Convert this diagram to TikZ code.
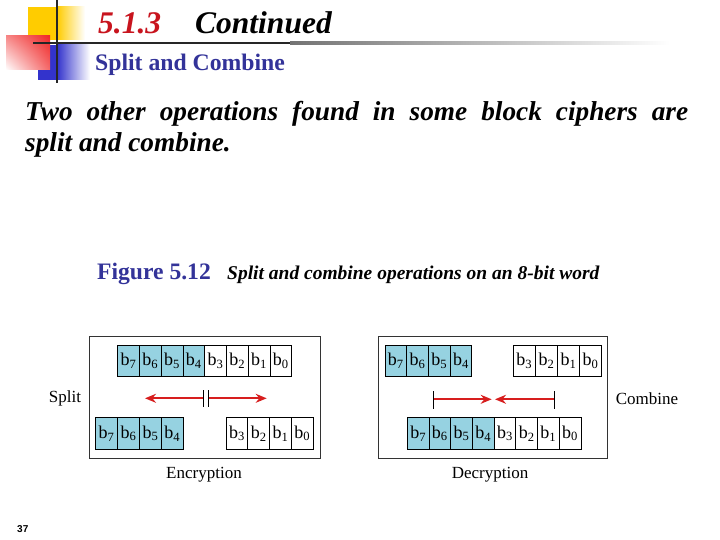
\documentclass[tikz,border=0pt]{standalone}
\usepackage{fontspec}
\setmainfont{Liberation Serif}
\newfontfamily\sansf{Liberation Sans}
\usetikzlibrary{arrows.meta,shadings}
\definecolor{navy}{RGB}{51,51,153}
\definecolor{cellblue}{RGB}{150,210,225}
\definecolor{arrred}{RGB}{215,30,30}
\definecolor{titlered}{RGB}{200,20,30}
\definecolor{decoyellow}{RGB}{255,204,0}
\definecolor{decoblue}{RGB}{51,51,204}
\definecolor{decored}{RGB}{240,40,40}
\begin{document}
\begin{tikzpicture}[x=1pt,y=-1pt,
  cellb/.style={draw=black, line width=0.8pt, fill=cellblue, minimum width=21.8pt, minimum height=31.5pt, inner sep=0pt, font=\fontsize{18}{21}\selectfont},
  cellw/.style={cellb, fill=white},
  frame/.style={draw=black!80, line width=0.9pt},
  lab/.style={inner sep=0pt, font=\fontsize{17}{20}\selectfont},
  redarrow/.style={draw=arrred, line width=1.7pt, -{Stealth[length=11pt,width=9pt]}},
  bar/.style={draw=black, line width=1.3pt},
  txt/.style={inner sep=0pt, anchor=base west}]
\useasboundingbox (0,0) rectangle (720,540);
\fill[white] (0,0) rectangle (720,540);

% decoration
\fill[decoyellow] (28,7) rectangle (57,40);
\shade[left color=decoyellow, right color=white] (57,7) rectangle (85,40);
\fill[decoblue] (38,45) rectangle (57,80);
\shade[left color=decoblue, right color=white] (57,45) rectangle (90,80);
\shade[upper right=decored, upper left=decored!55!white, lower right=decored!70!white, lower left=white] (6,36) rectangle (50,70);
\fill[black!85] (33,41.8) rectangle (290,44.2);
\shade[left color=black!55, right color=white] (290,41.8) rectangle (670,44.2);
\fill[black!85] (55.8,0) rectangle (58.2,83);

% title
\node[txt, font=\fontsize{31.5}{36}\selectfont\bfseries\itshape, text=titlered] (num) at (98,34) {5.1.3};
\node[txt, font=\fontsize{31.5}{36}\selectfont\bfseries\itshape] (cont) at (195,34) {Continued};
\node[txt, font=\fontsize{23.7}{27}\selectfont\bfseries, text=navy] (sub) at (95,71) {Split and Combine};

% body
\node[txt, font=\fontsize{27.3}{31}\selectfont\bfseries\itshape] (l1) at (25,121) {\makebox[663pt][s]{Two other operations found in some block ciphers are}};
\node[txt, font=\fontsize{27.3}{31}\selectfont\bfseries\itshape] (l2) at (25,152) {split and combine.};

% figure caption
\node[txt, font=\fontsize{23.6}{27}\selectfont\bfseries, text=navy] (fig) at (97,279) {Figure 5.12};
\node[txt, font=\fontsize{19.5}{22}\selectfont\bfseries\itshape] (cap) at (227,279) {Split and combine operations on an 8-bit word};

% frames
\draw[frame] (89,336) rectangle (320,458);
\draw[frame] (378,336) rectangle (607,458);

% encryption: top row
\foreach \b [count=\k from 0] in {7,6,5,4,3,2,1,0} {
  \ifnum\k<4
    \node[cellb] (eT\b) at ({117.7+10.875+21.75*\k},361) {b\textsubscript{\b}};
  \else
    \node[cellw] (eT\b) at ({117.7+10.875+21.75*\k},361) {b\textsubscript{\b}};
  \fi
}
\foreach \b [count=\k from 0] in {7,6,5,4}
  \node[cellb] (eL\b) at ({95.7+10.9+21.9*\k},433.5) {b\textsubscript{\b}};
\foreach \b [count=\k from 0] in {3,2,1,0}
  \node[cellw] (eR\b) at ({226+10.9+21.8*\k},433.5) {b\textsubscript{\b}};

% decryption
\foreach \b [count=\k from 0] in {7,6,5,4}
  \node[cellb] (dL\b) at ({385+10.85+21.7*\k},361) {b\textsubscript{\b}};
\foreach \b [count=\k from 0] in {3,2,1,0}
  \node[cellw] (dR\b) at ({513.3+11+22.1*\k},361) {b\textsubscript{\b}};
\foreach \b [count=\k from 0] in {7,6,5,4,3,2,1,0} {
  \ifnum\k<4
    \node[cellb] (dB\b) at ({407.3+10.85+21.7*\k},433.5) {b\textsubscript{\b}};
  \else
    \node[cellw] (dB\b) at ({407.3+10.85+21.7*\k},433.5) {b\textsubscript{\b}};
  \fi
}

% split arrows
\coordinate (sbl) at (203.3,398.3);
\coordinate (sbr) at (208.3,398.3);
\coordinate (sl) at (145,398.3);
\coordinate (sr) at (266.7,398.3);
\draw[redarrow] (sbl) -- (sl);
\draw[redarrow] (sbr) -- (sr);
\draw[bar] ([yshift=-8.3pt]sbl) -- ([yshift=8.7pt]sbl);
\draw[bar] ([yshift=-8.3pt]sbr) -- ([yshift=8.7pt]sbr);

% combine arrows
\coordinate (cbl) at (433.3,399.3);
\coordinate (cbr) at (554.3,399.3);
\coordinate (cl) at (491.7,399.3);
\coordinate (cr) at (495,399.3);
\draw[redarrow] (cbl) -- (cl);
\draw[redarrow] (cbr) -- (cr);
\draw[bar] ([yshift=-9.3pt]cbl) -- ([yshift=8pt]cbl);
\draw[bar] ([yshift=-9.3pt]cbr) -- ([yshift=8pt]cbr);

% labels
\node[lab] (split) at (65,398) {Split};
\node[lab] (comb) at (647,399) {Combine};
\node[lab] (enc) at (204,475) {Encryption};
\node[lab] (dec) at (490,475) {Decryption};

% page number
\node[txt, font=\sansf\bfseries\fontsize{10}{12}\selectfont] (pg) at (17,532) {37};
\end{tikzpicture}
\end{document}
